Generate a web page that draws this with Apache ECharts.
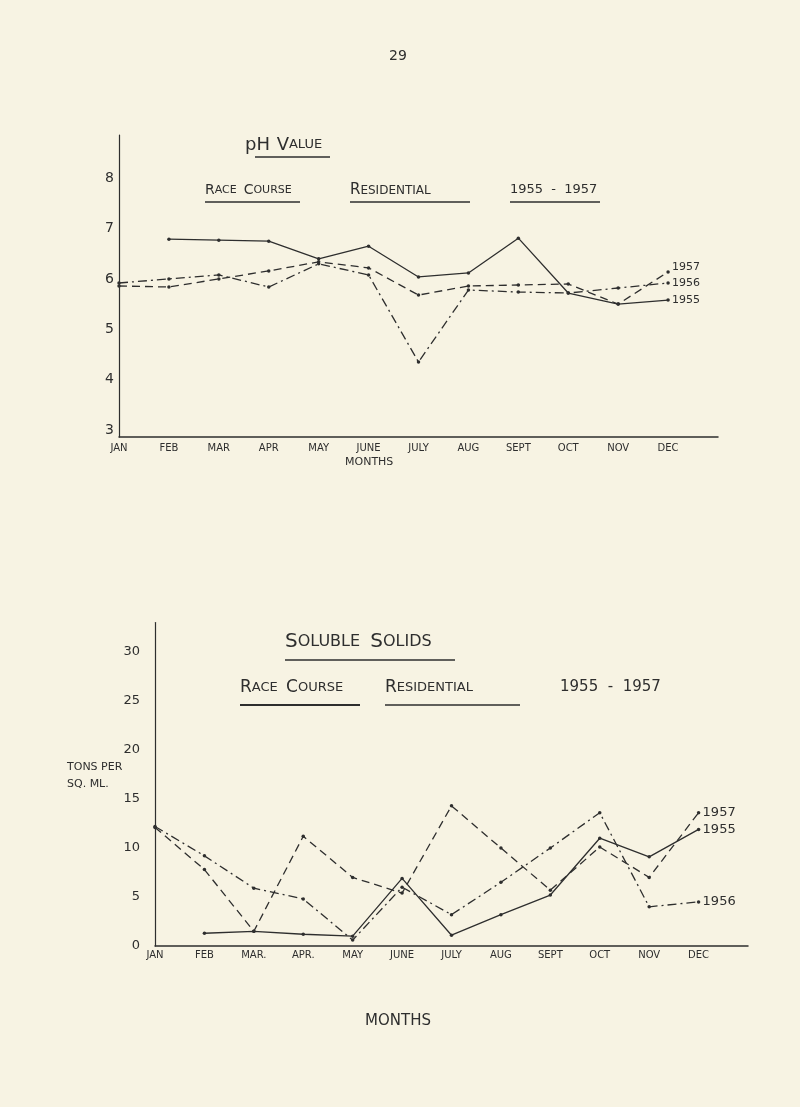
<!DOCTYPE html>
<html>
<head>
<meta charset="utf-8">
<script src="https://cdn.jsdelivr.net/npm/echarts@6/dist/echarts.min.js"></script>
<style>
html,body{margin:0;padding:0;background:#f7f3e3;}
#c{width:800px;height:1107px;}
</style>
</head>
<body>
<div id="c"></div>
<script>
// ---- data ----
const monthsTop = ['JAN','FEB','MAR','APR','MAY','JUNE','JULY','AUG','SEPT','OCT','NOV','DEC'];
const monthsBottom = ['JAN','FEB','MAR.','APR.','MAY','JUNE','JULY','AUG','SEPT','OCT','NOV','DEC'];

// pH value
const ph1955 = [null, 6.93, 6.91, 6.89, 6.54, 6.79, 6.18, 6.26, 6.95, 5.86, 5.64, 5.72];
const ph1956 = [6.06, 6.14, 6.22, 5.98, 6.44, 6.22, 4.49, 5.92, 5.88, 5.86, 5.96, 6.06];
const ph1957 = [6.00, 5.98, 6.14, 6.30, 6.48, 6.36, 5.82, 6.00, 6.02, 6.04, 5.64, 6.28];

// soluble solids, tons per sq. ml.
const ss1955 = [null, 1.3, 1.5, 1.2, 1.0, 6.9, 1.1, 3.2, 5.2, 11.0, 9.1, 11.9];
const ss1956 = [12.2, 9.2, 5.9, 4.8, 0.6, 6.0, 3.2, 6.5, 10.0, 13.6, 4.0, 4.5];
const ss1957 = [12.1, 7.8, 1.5, 11.2, 7.0, 5.4, 14.3, 10.0, 5.7, 10.1, 7.0, 13.6];

const INK = '#2e2e2e';
const FONT = 'DejaVu Sans';

function pts(arr){ return arr.map((v,i)=>[i, v]); }

const styles = {
  '1955': 'solid',
  '1956': [9,4,2,4],
  '1957': [8,5]
};

function mkSeries(name, arr, grid, endFont, endOffset){
  return {
    name: name, type: 'line',
    xAxisIndex: grid, yAxisIndex: grid,
    data: pts(arr),
    symbol: 'circle', symbolSize: 3.5, showSymbol: true,
    connectNulls: false,
    lineStyle: { color: INK, width: 1.3, type: styles[name] },
    itemStyle: { color: INK },
    emphasis: { disabled: true },
    endLabel: { show: true, formatter: name, color: INK, fontFamily: FONT,
                fontSize: endFont, distance: 4, offset: endOffset || [0,0] },
    animation: false
  };
}

const chart = echarts.init(document.getElementById('c'), null, {renderer:'canvas'});

function xAxisCfg(grid, labels, fs, margin){
  return {
    gridIndex: grid, type: 'value', min: 0, max: 12, interval: 1,
    axisLine: { show: true, lineStyle: { color: INK, width: 1.5 } },
    axisTick: { show: false }, splitLine: { show: false },
    axisLabel: { color: INK, fontFamily: FONT, fontSize: fs, margin: margin,
                 formatter: v => labels[v] || '', showMaxLabel: false }
  };
}

const option = {
  backgroundColor: '#f7f3e3',
  animation: false,
  grid: [
    { left: 119, width: 599, top: 135, height: 302 },
    { left: 155, width: 593, top: 622.6, height: 323.4 }
  ],
  xAxis: [ xAxisCfg(0, monthsTop, 10, 6), xAxisCfg(1, monthsBottom, 10, 4) ],
  yAxis: [
    { gridIndex: 0, type: 'value', min: 3, max: 9, interval: 1,
      axisLine: { show: true, lineStyle: { color: INK, width: 1.2 } },
      axisTick: { show: false }, splitLine: { show: false },
      axisLabel: { color: INK, fontFamily: FONT, fontSize: 14, margin: 5, showMaxLabel: false,
                   verticalAlign: 'bottom' } },
    { gridIndex: 1, type: 'value', min: 0, max: 33, interval: 5,
      axisLine: { show: true, lineStyle: { color: INK, width: 1.2 } },
      axisTick: { show: false }, splitLine: { show: false },
      axisLabel: { color: INK, fontFamily: FONT, fontSize: 13, margin: 15, showMaxLabel: false } }
  ],
  series: [
    mkSeries('1955', ph1955, 0, 11, [0,0]),
    mkSeries('1956', ph1956, 0, 11, [0,0]),
    mkSeries('1957', ph1957, 0, 11, [0,-5]),
    mkSeries('1955', ss1955, 1, 13, [0,0]),
    mkSeries('1956', ss1956, 1, 13, [0,0]),
    mkSeries('1957', ss1957, 1, 13, [0,0])
  ],
  graphic: [
    { type:'text', left: 389, top: 49, style:{ text:'29', fill: INK, font: '14px '+FONT } },
    // top chart titles
    { type:'text', left: 245, top: 136, style:{ text:'{a|pH}{s|  }{a|V}{b|ALUE}', fill: INK,
        rich:{ a:{fontSize:18, fontFamily:FONT, fill:INK}, b:{fontSize:13, fontFamily:FONT, fill:INK}, s:{fontSize:12} } } },
    { type:'line', shape:{x1:255, y1:157, x2:330, y2:157}, style:{stroke:INK, lineWidth:1.3} },
    { type:'text', left: 205, top: 183, style:{ text:'{a|R}{b|ACE  }{a|C}{b|OURSE}', rich:{ a:{fontSize:14,fontFamily:FONT,fill:INK}, b:{fontSize:11,fontFamily:FONT,fill:INK} } } },
    { type:'line', shape:{x1:205, y1:202, x2:300, y2:202}, style:{stroke:INK, lineWidth:1.3} },
    { type:'text', left: 350, top: 183, style:{ text:'{a|R}{b|ESIDENTIAL}', rich:{ a:{fontSize:15,fontFamily:FONT,fill:INK}, b:{fontSize:12,fontFamily:FONT,fill:INK} } } },
    { type:'line', shape:{x1:350, y1:202, x2:470, y2:202}, style:{stroke:INK, lineWidth:1.3} },
    { type:'text', left: 510, top: 183, style:{ text:'1955  -  1957', fill: INK, font: '13px '+FONT } },
    { type:'line', shape:{x1:510, y1:202, x2:600, y2:202}, style:{stroke:INK, lineWidth:1.3} },
    { type:'text', left: 345, top: 457, style:{ text:'MONTHS', fill: INK, font: '11px '+FONT } },
    // bottom chart titles
    { type:'text', left: 285, top: 632, style:{ text:'{a|S}{b|OLUBLE  }{a|S}{b|OLIDS}', rich:{ a:{fontSize:20,fontFamily:FONT,fill:INK}, b:{fontSize:16,fontFamily:FONT,fill:INK} } } },
    { type:'line', shape:{x1:285, y1:660, x2:455, y2:660}, style:{stroke:INK, lineWidth:1.3} },
    { type:'text', left: 240, top: 679, style:{ text:'{a|R}{b|ACE  }{a|C}{b|OURSE}', rich:{ a:{fontSize:17,fontFamily:FONT,fill:INK}, b:{fontSize:13,fontFamily:FONT,fill:INK} } } },
    { type:'line', shape:{x1:240, y1:705, x2:360, y2:705}, style:{stroke:INK, lineWidth:2} },
    { type:'text', left: 385, top: 679, style:{ text:'{a|R}{b|ESIDENTIAL}', rich:{ a:{fontSize:17,fontFamily:FONT,fill:INK}, b:{fontSize:13,fontFamily:FONT,fill:INK} } } },
    { type:'line', shape:{x1:385, y1:705, x2:520, y2:705}, style:{stroke:INK, lineWidth:1.3} },
    { type:'text', left: 560, top: 680, style:{ text:'1955  -  1957', fill: INK, font: '15px '+FONT } },
    { type:'text', left: 67, top: 759, style:{ text:'TONS PER\nSQ. ML.', fill: INK, font: '11px '+FONT, lineHeight: 17 } },
    { type:'text', left: 365, top: 1014, style:{ text:'MONTHS', fill: INK, font: '15px '+FONT } }
  ]
};
chart.setOption(option);
</script>
</body>
</html>
